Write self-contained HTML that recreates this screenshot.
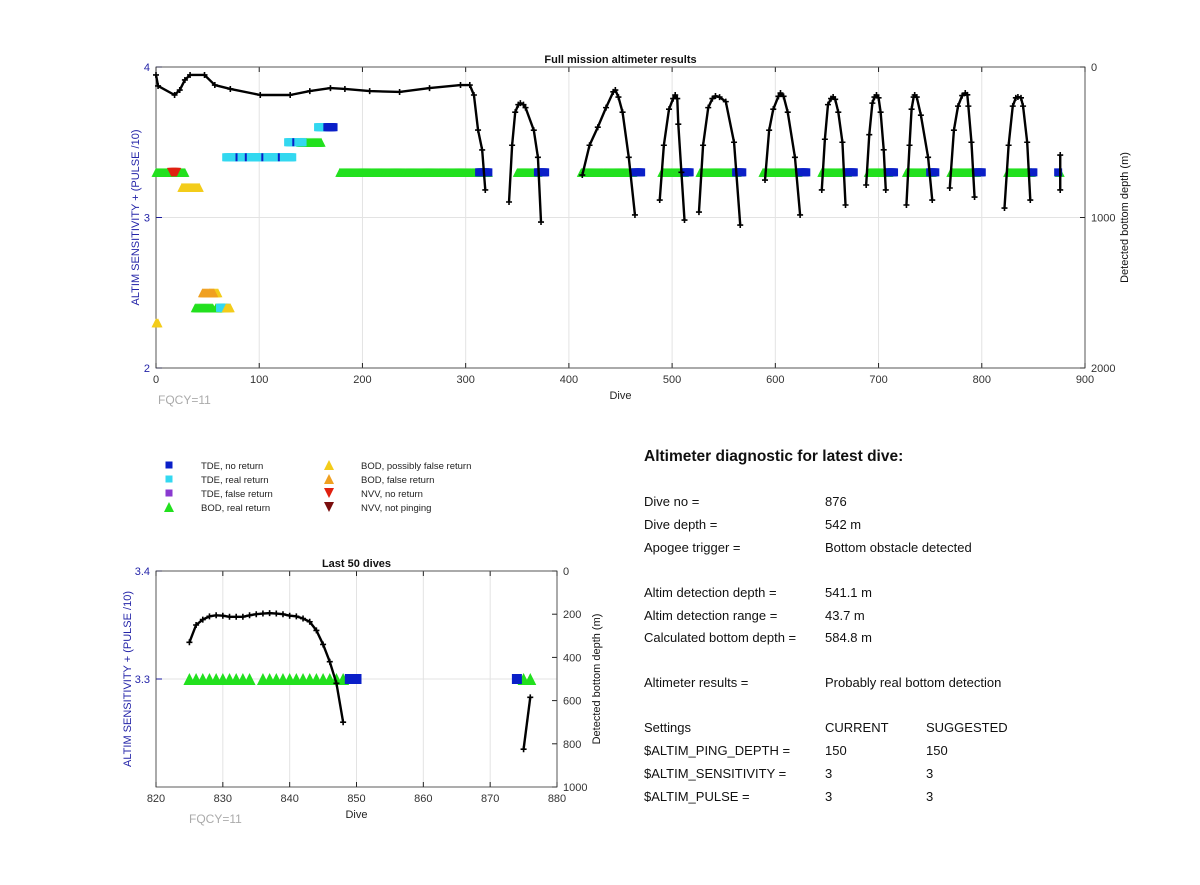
<!DOCTYPE html>
<html><head><meta charset="utf-8"><style>
body{margin:0;background:#fff;width:1200px;height:885px;overflow:hidden;font-family:"Liberation Sans",Arial,sans-serif}
svg{position:absolute;left:0;top:0}
.t{font-size:13px;fill:#111}
</style></head><body>
<svg id="s" width="1200" height="885"></svg>
<script>
// ---- data: top chart depth line segments (dive, depth m) ----
const seg1Dive=[0,2,18,23,28,33,47,57,72,101,130,149,169,183,207,236,265,295,304,308,312,316,319];
const seg1Depth=[53,126,186,153,86,53,53,120,146,186,186,160,140,146,160,166,140,120,120,186,419,551,817];
const archDives=[
 [342,345,348,351,353,356,358,366,370,373],
 [413,420,428,436,443,445,448,452,458,464],
 [488,492,497,501,503,505,506,509,512],
 [526,530,535,539,542,546,552,560,566],
 [590,594,598,603,605,608,612,619,624],
 [645,648,651,654,656,658,661,665,668],
 [688,691,694,696,698,700,702,705,707],
 [727,730,732,734,735,737,741,748,752],
 [769,773,777,781,784,786,787,790,793],
 [822,826,830,833,835,838,840,844,847],
 [876,876]];
const archDepths=[
 [897,520,300,250,240,250,270,420,600,1030],
 [718,520,400,270,165,153,200,300,600,983],
 [884,520,280,210,186,210,380,700,1017],
 [964,520,270,210,193,200,230,500,1050],
 [751,420,280,195,173,195,300,600,983],
 [817,480,250,210,199,215,300,500,917],
 [784,450,240,200,186,205,300,550,817],
 [917,520,280,200,186,200,320,600,884],
 [804,420,260,190,173,185,260,500,864],
 [937,520,260,205,199,205,260,500,884],
 [585,817]];
// marker ranges [startDive,endDive,value]
const bodReal=[[0,28,3.3],[178,322,3.3],[350,370,3.3],[412,462,3.3],[490,512,3.3],[527,563,3.3],[588,622,3.3],[645,670,3.3],[690,710,3.3],[727,752,3.3],[770,795,3.3],[825,848,3.3],[875,876,3.3],[140,160,3.5],[38,55,2.4],[58,66,2.4]];
const tdeNo=[[313,322,3.3],[370,377,3.3],[464,470,3.3],[512,517,3.3],[562,568,3.3],[624,630,3.3],[670,676,3.3],[709,715,3.3],[750,755,3.3],[795,800,3.3],[849,850,3.3],[874,874,3.3],[166,172,3.6]];
const tdeReal=[[68,132,3.4],[128,142,3.5],[157,165,3.6],[62,68,2.4]];
const tdeTicks=[[78,78,3.4],[87,87,3.4],[103,103,3.4],[119,119,3.4],[133,133,3.5]];
const bodPoss=[[25,42,3.2],[0,2,2.3],[68,72,2.4],[52,60,2.5]];
const bodFalse=[[45,56,2.5]];
const nvvNo=[[15,20,3.3]];
// bottom chart
const lastDive=[825,826,827,828,829,830,831,832,833,834,835,836,837,838,839,840,841,842,843,844,845,846,847,848];
const lastDepth=[330,250,225,210,205,207,212,212,212,205,200,197,195,197,200,207,210,220,235,275,340,420,520,700];
const lastDive2=[875,876];
const lastDepth2=[825,585];
const lastBod=[[825,834],[836,848],[875,876]];
const lastTde=[[849,850],[874,874]];
const xTicksTop=[0,100,200,300,400,500,600,700,800,900];
const yTicksTop=[2,3,4];
const rTicksTop=[0,1000,2000];
const xTicksBot=[820,830,840,850,860,870,880];
const yTicksBot=[3.3,3.4];
const rTicksBot=[0,200,400,600,800,1000];

const S=document.getElementById('s');const NS='http://www.w3.org/2000/svg';
function el(t,a,p){const e=document.createElementNS(NS,t);for(const k in a)e.setAttribute(k,a[k]);(p||S).appendChild(e);return e;}
function txt(x,y,s,a,p){const e=el('text',Object.assign({x:x,y:y},a),p);e.textContent=s;return e;}

function axes(P,name){
 const g=el('g',{});
 
 
 const X=v=>P.x0+(v-P.xmin)/(P.xmax-P.xmin)*(P.x1-P.x0);
 const Y=v=>P.y1-(v-P.ymin)/(P.ymax-P.ymin)*(P.y1-P.y0);
 const R=v=>P.y0+(v-P.rmin)/(P.rmax-P.rmin)*(P.y1-P.y0);
 P.xt.forEach(v=>{el('line',{x1:X(v),x2:X(v),y1:P.y0,y2:P.y1,stroke:'#e3e3e3'},g);
  el('line',{x1:X(v),x2:X(v),y1:P.y1,y2:P.y1-5,stroke:'#222'},g);el('line',{x1:X(v),x2:X(v),y1:P.y0,y2:P.y0+5,stroke:'#222'},g);
  const t=txt(X(v),P.y1+15,String(v),{'font-size':11,fill:'#333','text-anchor':'middle'},g);});
 P.yt.forEach(v=>{el('line',{x1:P.x0,x2:P.x1,y1:Y(v),y2:Y(v),stroke:'#e3e3e3'},g);
  el('line',{x1:P.x0,x2:P.x0+6,y1:Y(v),y2:Y(v),stroke:'#1a1aa0'},g);
  const t=txt(P.x0-6,Y(v)+4,P.yf(v),{'font-size':11,fill:'#2424a8','text-anchor':'end'},g);});
 P.rt.forEach(v=>{el('line',{x1:P.x1,x2:P.x1-5,y1:R(v),y2:R(v),stroke:'#222'},g);
  const t=txt(P.x1+6,R(v)+4,String(v),{'font-size':11,fill:'#333'},g);});
 el('rect',{x:P.x0,y:P.y0,width:P.x1-P.x0,height:P.y1-P.y0,fill:'none',stroke:'#333','stroke-width':0.8},g);
 let t=txt((P.x0+P.x1)/2,P.y0-4,P.title,{'font-size':11,'font-weight':'bold','text-anchor':'middle',fill:'#111'},g);
 t=txt((P.x0+P.x1)/2,P.y1+31,'Dive',{'font-size':11,'text-anchor':'middle',fill:'#222'},g);
 t=txt(P.fx,P.y1+36,'FQCY=11',{'font-size':12,fill:'#aaa'},g);
 const cy=(P.y0+P.y1)/2;
 t=txt(0,0,'ALTIM SENSITIVITY + (PULSE /10)',{'font-size':11,fill:'#2424a8','text-anchor':'middle',transform:`translate(${P.lx},${cy}) rotate(-90)`},g);
 t=txt(0,0,'Detected bottom depth (m)',{'font-size':11,fill:'#111','text-anchor':'middle',transform:`translate(${P.rx},${cy}) rotate(-90)`},g);
 return {X,Y,R,g};
}
function tri(g,x,y,c,down,s){const h=s||4.5;const p=down?`${x-h},${y-h} ${x+h},${y-h} ${x},${y+h}`:`${x-h},${y+h} ${x+h},${y+h} ${x},${y-h}`;return el('polygon',{points:p,fill:c},g);}
function sq(g,x,y,c,s){const h=s||4;return el('rect',{x:x-h,y:y-h,width:2*h,height:2*h,fill:c},g);}
function line(A,g,dv,dp,name){const pts=dv.map((d,i)=>A.X(d)+','+A.R(dp[i])).join(' ');
 const l=el('polyline',{points:pts,fill:'none',stroke:'#000','stroke-width':2.4,'stroke-linejoin':'round'},g);
 
 dv.forEach((d,i)=>{const x=A.X(d),y=A.R(dp[i]);el('path',{d:`M${x-3},${y}H${x+3}M${x},${y-3}V${y+3}`,stroke:'#000','stroke-width':1.6},g);});}

// top
const T=axes({x0:156,x1:1085,y0:67,y1:368,xmin:0,xmax:900,ymin:2,ymax:4,rmin:0,rmax:2000,xt:xTicksTop,yt:yTicksTop,rt:rTicksTop,yf:v=>String(v),title:'Full mission altimeter results',fx:158,lx:139,rx:1128},'top-chart');
const mk=el('g',{},T.g);
function ranges(arr,f){arr.forEach(r=>{for(let d=r[0];d<=r[1];d++)f(d,r[2]);});}
ranges(bodReal,(d,v)=>tri(mk,T.X(d),T.Y(v),'#22e01e'));
ranges(tdeReal,(d,v)=>sq(mk,T.X(d),T.Y(v),'#33d8f0'));
ranges(tdeNo,(d,v)=>sq(mk,T.X(d),T.Y(v),'#0a1fc8'));
ranges(tdeTicks,(d,v)=>el('rect',{x:T.X(d)-1,y:T.Y(v)-4,width:2,height:8,fill:'#0a1fc8'},mk));
ranges(bodPoss,(d,v)=>tri(mk,T.X(d),T.Y(v),'#f3cc1a'));
ranges(bodFalse,(d,v)=>tri(mk,T.X(d),T.Y(v),'#f0a020'));
ranges(nvvNo,(d,v)=>tri(mk,T.X(d),T.Y(v),'#e02010',true));
line(T,T.g,seg1Dive,seg1Depth,'depth-line-early');
archDives.forEach((a,i)=>line(T,T.g,a,archDepths[i],'depth-line-dive-group'));

// bottom
const B=axes({x0:156,x1:557,y0:571,y1:787,xmin:820,xmax:880,ymin:3.2,ymax:3.4,rmin:0,rmax:1000,xt:xTicksBot,yt:yTicksBot,rt:rTicksBot,yf:v=>v.toFixed(1),title:'Last 50 dives',fx:189,lx:131,rx:600},'bottom-chart');
lastBod.forEach(r=>{for(let d=r[0];d<=r[1];d++)tri(B.g,B.X(d),B.Y(3.3),'#22e01e',false,6);});
lastTde.forEach(r=>{for(let d=r[0];d<=r[1];d++)sq(B.g,B.X(d),B.Y(3.3),'#0a1fc8',5);});
line(B,B.g,lastDive,lastDepth,'last-depth-line');
line(B,B.g,lastDive2,lastDepth2,'last-depth-line-2');

// legend
const L=el('g',{});
const leg=[['TDE, no return','sq','#0a1fc8'],['TDE, real return','sq','#33d8f0'],['TDE, false return','sq','#8a3ad0'],['BOD, real return','up','#22e01e'],
['BOD, possibly false return','up','#f3cc1a'],['BOD, false return','up','#f0a020'],['NVV, no return','dn','#e02010'],['NVV, not pinging','dn','#7a0e0e']];
leg.forEach((l,i)=>{const c=i<4?0:1,r=i%4;const mx=c?329:169,ty=465+r*14;
 if(l[1]=='sq')sq(L,mx,ty,l[2],3.5);else tri(L,mx,ty,l[2],l[1]=='dn',5);
 const t=txt(c?361:201,ty+4,l[0],{'font-size':9.5,fill:'#222'},L);});

// diagnostic text
const D=el('g',{});
let h=txt(644,461,'Altimeter diagnostic for latest dive:',{'font-size':15.5,'font-weight':'bold',fill:'#111'},D);
const rows=[[501,'Dive no =','876'],[524,'Dive depth =','542 m'],[547,'Apogee trigger =','Bottom obstacle detected'],[592,'Altim detection depth =','541.1 m'],[615,'Altim detection range =','43.7 m'],[637,'Calculated bottom depth =','584.8 m'],[682,'Altimeter results =','Probably real bottom detection'],[727,'Settings','CURRENT','SUGGESTED'],[750,'$ALTIM_PING_DEPTH =','150','150'],[773,'$ALTIM_SENSITIVITY =','3','3'],[796,'$ALTIM_PULSE =','3','3']];
rows.forEach(r=>{[644,825,926].forEach((x,j)=>{if(r[j+1]!==undefined){const t=txt(x,r[0]+5,r[j+1],{class:'t'},D);}});});
</script>
</body></html>
